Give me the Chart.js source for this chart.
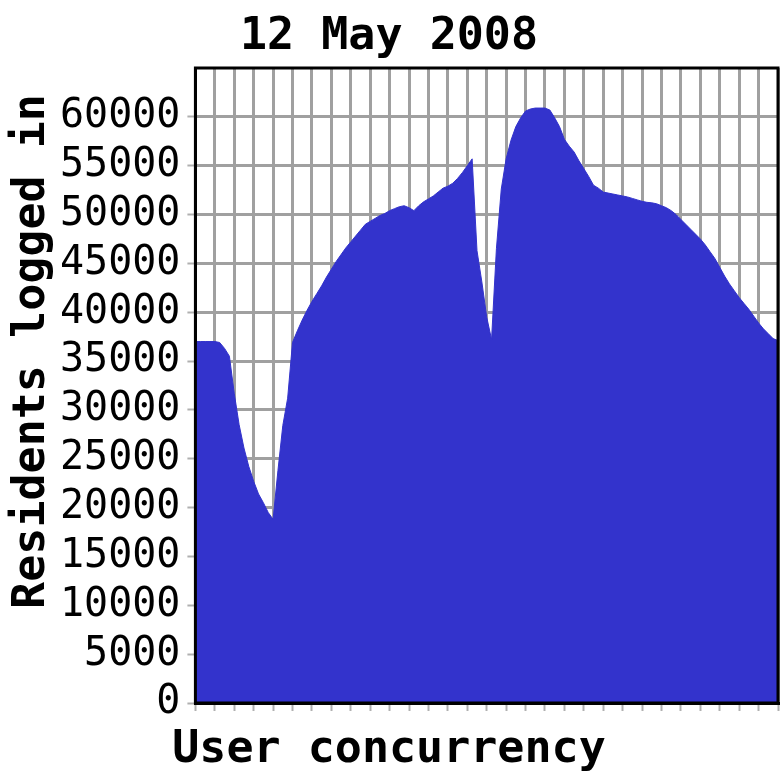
<!DOCTYPE html>
<html>
<head>
<meta charset="utf-8">
<title>12 May 2008</title>
<script src="https://cdn.jsdelivr.net/npm/chart.js@4"></script>
<style>
    html, body { margin: 0; padding: 0; background: #ffffff; }
    #wrap { width: 780px; height: 780px; }
</style>
</head>
<body>
<div id="wrap"><canvas id="concurrencyChart" width="780" height="780"></canvas></div>
<script>
// عدد العينات في كل خانة من خانات الشبكة الأفقية
const samplesPerCell = 4;
const cellCount = 30;

// عدد المقيمين المتصلين (قراءة تقريبية من الرسم)
const residents = [
    37000, 37000, 37000, 37000, 37000, 36900, 36300, 35500, 31700, 28500,
    26100, 24200, 22700, 21400, 20500, 19500, 18800, 23800, 28400, 31200,
    36900, 38100, 39200, 40200, 41100, 41900, 42700, 43600, 44400, 45200,
    45900, 46600, 47200, 47800, 48400, 49000, 49300, 49600, 49900, 50100,
    50400, 50600, 50800, 50900, 50700, 50400, 50900, 51300, 51600, 51900,
    52300, 52700, 52900, 53200, 53700, 54300, 55000, 55700, 46300, 43100,
    39500, 37200, 46500, 52600, 55700, 57600, 59000, 59900, 60600, 60800,
    60900, 60900, 60900, 60700, 59900, 59000, 57700, 57000, 56400, 55500,
    54700, 53900, 53000, 52700, 52300, 52200, 52100, 52000, 51900, 51800,
    51650, 51500, 51350, 51250, 51200, 51100, 50900, 50700, 50400, 50000,
    49500, 49000, 48500, 48000, 47500, 46900, 46200, 45500, 44600, 43700,
    42900, 42200, 41500, 40900, 40300, 39600, 38900, 38300, 37800, 37300,
    37100
];

// علامات المحور العمودي
const yTicks = [0, 5000, 10000, 15000, 20000, 25000, 30000, 35000, 40000, 45000, 50000, 55000, 60000];
const yMax = 65000;

const titleText = '12 May 2008';
const xTitleText = 'User concurrency';
const yTitleText = 'Residents logged in';

const fontFamily = '"DejaVu Sans Mono", "Liberation Mono", monospace';
const titleFont = { family: fontFamily, size: 45, weight: 'bold' };

// تحويل القيم إلى نقاط على المحور الأفقي
const points = residents.map((value, i) => ({ x: i / samplesPerCell, y: value }));

// إطار أسود حول منطقة الرسم
const frameBorder = {
    id: 'frameBorder',
    afterDatasetsDraw(chart) {
        const { ctx, chartArea } = chart;
        ctx.save();
        ctx.strokeStyle = '#000000';
        ctx.lineWidth = 3;
        ctx.strokeRect(chartArea.left, chartArea.top, chartArea.right - chartArea.left, chartArea.bottom - chartArea.top);
        ctx.restore();
    }
};

// عنوان المحور العمودي: يتوسط المسافة بين أعلى اللوحة وأسفل منطقة الرسم
const sideTitle = {
    id: 'sideTitle',
    afterDraw(chart) {
        const { ctx, chartArea } = chart;
        ctx.save();
        ctx.translate(32, chartArea.bottom / 2);
        ctx.rotate(-Math.PI / 2);
        ctx.fillStyle = '#000000';
        ctx.font = `bold ${titleFont.size}px ${fontFamily}`;
        ctx.textAlign = 'center';
        ctx.textBaseline = 'middle';
        ctx.fillText(yTitleText, 0, 0);
        ctx.restore();
    }
};

const ctx = document.getElementById('concurrencyChart').getContext('2d');
window.concurrencyChart = new Chart(ctx, {
    type: 'line',
    data: {
        datasets: [{
            label: yTitleText,
            data: points,
            backgroundColor: '#3333cc',
            borderColor: '#3333cc',
            borderWidth: 1,
            pointRadius: 0,
            tension: 0,
            fill: 'origin'
        }]
    },
    options: {
        responsive: false,
        animation: false,
        layout: { padding: { left: 0, right: 2, top: 0, bottom: 3 } },
        plugins: {
            legend: { display: false },
            tooltip: { enabled: false },
            title: {
                display: true,
                text: titleText,
                color: '#000000',
                font: titleFont,
                padding: { top: 10, bottom: 4 }
            },
            subtitle: {
                display: true,
                position: 'bottom',
                text: xTitleText,
                color: '#000000',
                font: titleFont,
                padding: { top: 12, bottom: 0 }
            }
        },
        scales: {
            x: {
                type: 'linear',
                min: 0,
                max: cellCount,
                afterBuildTicks: (scale) => {
                    const ticks = [];
                    for (let i = 0; i <= cellCount; i++) ticks.push({ value: i });
                    scale.ticks = ticks;
                },
                ticks: { display: false },
                grid: { color: '#a0a0a0', lineWidth: 3, tickLength: 8, tickColor: '#b0b0b0', tickWidth: 2 },
                border: { color: '#000000', width: 3 }
            },
            y: {
                min: 0,
                max: yMax,
                afterBuildTicks: (scale) => {
                    scale.ticks = yTicks.map(v => ({ value: v }));
                },
                // مساحة إضافية لعنوان المحور العمودي
                afterFit: (scale) => {
                    scale.width += 53;
                },
                ticks: {
                    color: '#000000',
                    padding: 7,
                    font: { family: fontFamily, size: 40 },
                    callback: (value) => String(value)
                },
                grid: { color: '#a0a0a0', lineWidth: 3, tickLength: 8, tickColor: '#b0b0b0', tickWidth: 2 },
                border: { color: '#000000', width: 3 }
            }
        }
    },
    plugins: [frameBorder, sideTitle]
});
</script>
</body>
</html>
